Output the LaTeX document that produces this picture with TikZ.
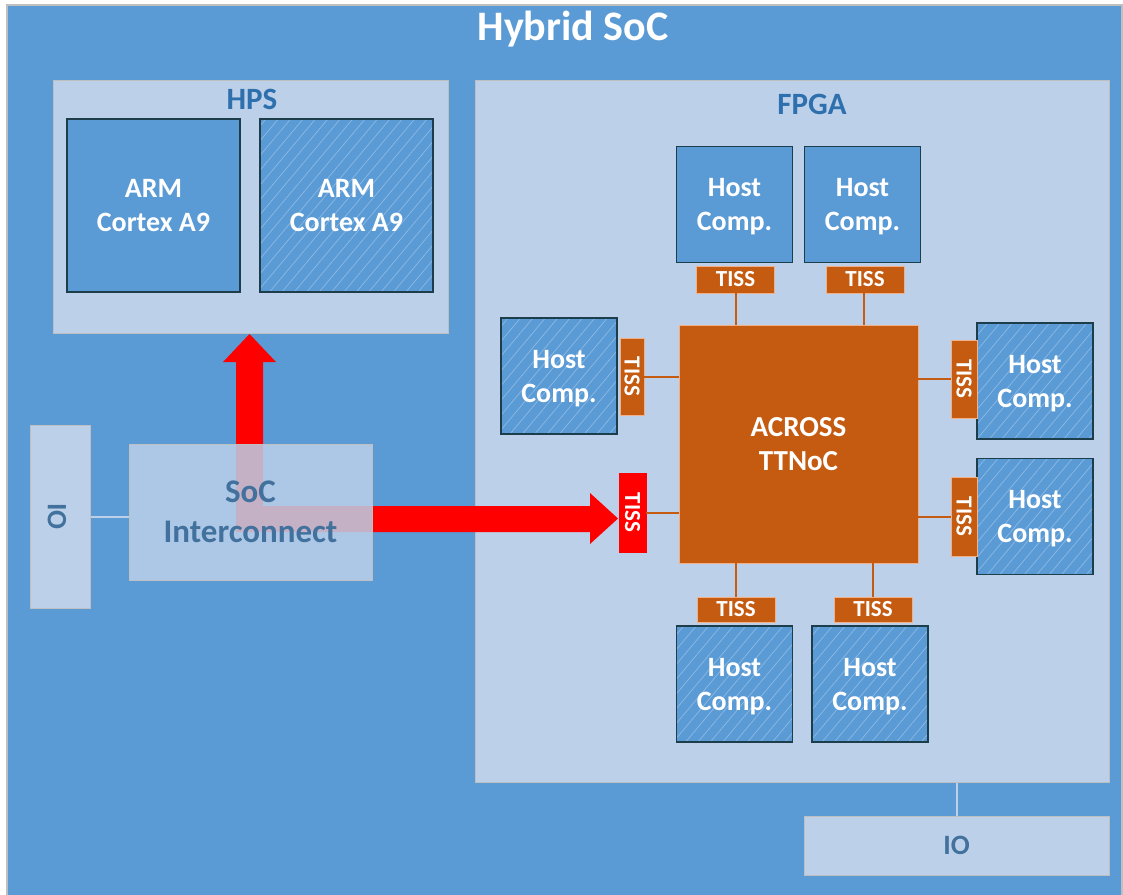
\documentclass[tikz,border=0pt]{standalone}
\usepackage{fontspec}
\setmainfont{Carlito}
\usetikzlibrary{patterns.meta}
\definecolor{socblue}{HTML}{5B9BD5}
\definecolor{lightbox}{HTML}{BCD0E9}
\definecolor{greyedge}{HTML}{BFBFBF}
\definecolor{hostedge}{HTML}{1E3D4A}
\definecolor{labelblue}{HTML}{2E6FAE}
\definecolor{textblue}{HTML}{41719C}
\definecolor{orangefill}{HTML}{C55A11}
\definecolor{orangeedge}{HTML}{F0B08A}
\definecolor{hatchc}{HTML}{8DB9E4}
\definecolor{redarrow}{HTML}{FF0000}
\newcommand{\fsz}[2]{\fontsize{#1}{#2}\selectfont}
\tikzset{
  lightrect/.style={draw=greyedge, line width=1pt, fill=lightbox, inner sep=0pt},
  hostbox/.style={draw=hostedge, line width=1.5pt, fill=socblue, minimum width=116pt, minimum height=116pt,
    inner sep=0pt, text=white, align=center, text depth=0pt, font=\bfseries\fsz{28}{34}},
  hatched/.style={postaction={pattern={Lines[angle=50,distance=9.5pt,line width=0.7pt]}, pattern color=hatchc},
    postaction={draw=hostedge, line width=1.5pt}},
  tissbox/.style={draw=orangeedge, line width=0.8pt, fill=orangefill, inner sep=0pt, text=white,
    font=\bfseries\fsz{23}{24}, minimum width=78pt, minimum height=26pt},
  tisslink/.style={draw=orangefill, line width=2pt},
  iolink/.style={draw=lightbox, line width=2pt},
  boxlabel/.style={text=labelblue, font=\bfseries\fsz{31}{32}, inner sep=0pt}
}
\begin{document}
\begin{tikzpicture}[x=1pt,y=-1pt]
\useasboundingbox (0,0) rectangle (1123,894);
\fill[white] (0,0) rectangle (1123,894);
% outer SoC
\draw[draw=greyedge, line width=1.5pt, fill=socblue] (7,5) rectangle (1122,897);
\node[text=white, font=\bfseries\fsz{42}{44}, inner sep=0pt] (title) at (573,29) {Hybrid SoC};
% HPS
\node[lightrect, minimum width=395pt, minimum height=253pt] (hps) at (250.5,206.5) {};
\node[boxlabel] (hpslabel) at (252,99) {HPS};
\node[hostbox, minimum width=173pt, minimum height=173pt] (arm1) at (153.5,205.5) {ARM\\Cortex A9};
\node[hostbox, hatched, minimum width=173pt, minimum height=173pt] (arm2) at (346.5,205.5) {ARM\\Cortex A9};
% FPGA
\node[lightrect, minimum width=634pt, minimum height=702pt] (fpga) at (792,431) {};
\node[boxlabel] (fpgalabel) at (812,104) {FPGA};
% ACROSS
\node[draw=orangeedge, line width=0.8pt, fill=orangefill, minimum width=239pt, minimum height=238pt, inner sep=0pt,
  text=white, align=center, font=\bfseries\fsz{29}{34}] (across) at (798.5,444) {ACROSS\\TTNoC};
% top hosts
\node[hostbox] (ht1) at (734.5,204.5) {Host\\Comp.};
\node[hostbox] (ht2) at (862.5,204.5) {Host\\Comp.};
\node[tissbox, minimum height=27pt] (tt1) at (735.5,279.5) {TISS};
\node[tissbox, minimum height=27pt] (tt2) at (865,279.5) {TISS};
% left host
\node[hostbox, hatched] (hl) at (559,376) {Host\\Comp.};
\node[tissbox, rotate=-90, minimum width=77pt, minimum height=24pt] (tl) at (632,376.5) {TISS};
% red TISS
\node[tissbox, draw=redarrow, fill=redarrow, rotate=-90, minimum width=79pt, minimum height=27pt] (tred) at (632.5,512.5) {TISS};
% right hosts
\node[hostbox, hatched] (hr1) at (1035,381) {Host\\Comp.};
\node[tissbox, rotate=-90, minimum width=78pt, minimum height=26pt] (tr1) at (964,379) {TISS};
\node[hostbox, hatched] (hr2) at (1035,516.5) {Host\\Comp.};
\node[tissbox, rotate=-90, minimum width=79pt, minimum height=26pt] (tr2) at (964,516.5) {TISS};
% bottom hosts
\node[tissbox, minimum height=25pt] (tb1) at (736,609.5) {TISS};
\node[tissbox, minimum height=25pt] (tb2) at (873,609.5) {TISS};
\node[hostbox, hatched] (hb1) at (734.5,684) {Host\\Comp.};
\node[hostbox, hatched] (hb2) at (870,684) {Host\\Comp.};
% TISS links
\draw[tisslink] (tt1.south) -- (tt1.south |- across.north);
\draw[tisslink] (864,293) -- (864,325);
\draw[tisslink] (tl) -- (tl -| across.west);
\draw[tisslink] (tred) -- (tred -| across.west);
\draw[tisslink] (tr1) -- (tr1 -| across.east);
\draw[tisslink] (tr2) -- (tr2 -| across.east);
\draw[tisslink] (tb1.north) -- (tb1.north |- across.south);
\draw[tisslink] (tb2.north) -- (tb2.north |- across.south);
% IO boxes
\node[lightrect, minimum width=305pt, minimum height=59pt, text=textblue, font=\bfseries\fsz{28}{30}] (iob) at (956.5,845.5) {IO};
\node[lightrect, minimum width=60pt, minimum height=183pt] (iol) at (60,516.5) {};
\node[text=textblue, font=\bfseries\fsz{28}{30}, rotate=-90, inner sep=0pt] (iollabel) at (57,516.5) {IO};
\draw[iolink] (iob.north) -- (iob.north |- fpga.south);
% red bent arrow
\fill[redarrow] (236,532) -- (236,362) -- (223,362) -- (249.5,334) -- (276,362) -- (263,362) -- (263,506)
  -- (590,506) -- (590,493) -- (618,518.5) -- (590,544) -- (590,532) -- cycle;
% SoC interconnect
\node[draw=greyedge, line width=1pt, fill=lightbox, fill opacity=0.85, text opacity=1, minimum width=243pt, minimum height=136pt,
  inner sep=0pt, text=textblue, align=center, font=\bfseries\fsz{33}{40}] (soc) at (250.5,512) {SoC\\Interconnect};
\draw[iolink] (iol) -- (iol -| soc.west);
\end{tikzpicture}
\end{document}
